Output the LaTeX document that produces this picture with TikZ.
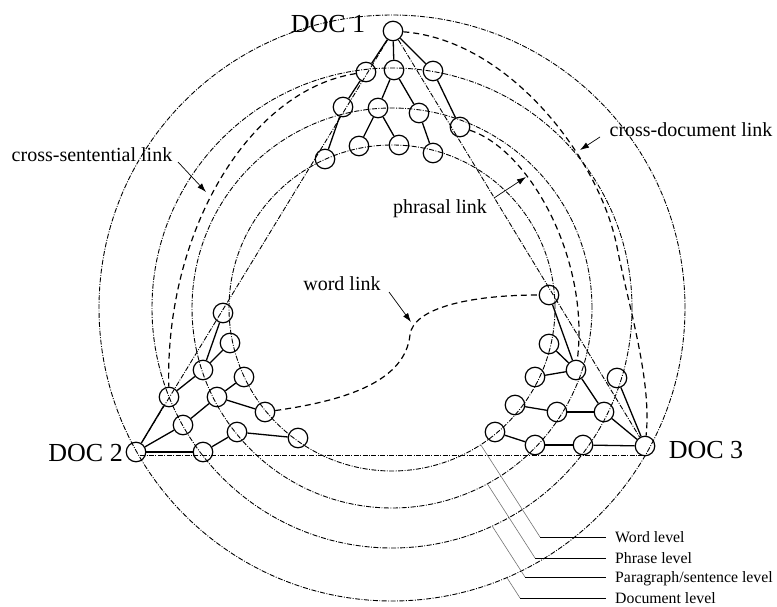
\documentclass[tikz,border=0pt]{standalone}
\usepackage{fontspec}
\setmainfont{Liberation Serif}
\usetikzlibrary{arrows.meta}
\begin{document}
\begin{tikzpicture}[x=1pt,y=-1pt,
  lvl/.style={line width=0.9pt, dash pattern=on 5pt off 1.5pt on 0.9pt off 1.5pt},
  lnk/.style={line width=1.2pt, dash pattern=on 6pt off 4pt},
  tn/.style={circle, draw, line width=1.2pt, minimum size=19.5pt, inner sep=0pt},
  te/.style={line width=1.3pt},
  lab/.style={font=\fontsize{20}{22}\selectfont, inner sep=0pt},
  doclab/.style={font=\fontsize{26}{28}\selectfont, inner sep=0pt},
  leg/.style={font=\fontsize{15.8}{17}\selectfont, anchor=base west, inner xsep=9pt, inner ysep=0pt},
  arr/.style={-{Latex[length=9pt,width=6pt]}, line width=0.7pt},
  legdiag/.style={line width=0.6pt, draw=black!55},
  leghor/.style={line width=0.9pt}
]
\useasboundingbox (0,0) rectangle (777,607);
\coordinate (O) at (392,308);
% level circles
\draw[lvl] (O) circle[radius=293pt];
\draw[lvl] (O) circle[radius=240pt];
\draw[lvl] (O) circle[radius=200pt];
\draw[lvl] (O) circle[radius=163pt];

% DOC 1 tree
\node[tn] (t0) at (393,31) {};
\node[tn] (t1) at (366,72) {};
\node[tn] (t2) at (394,70) {};
\node[tn] (t3) at (433,71) {};
\node[tn] (t4) at (343,107) {};
\node[tn] (t5) at (378,108) {};
\node[tn] (t6) at (419,113) {};
\node[tn] (t7) at (460,127) {};
\node[tn] (t8) at (325,159) {};
\node[tn] (t9) at (359,146) {};
\node[tn] (t10) at (399,145) {};
\node[tn] (t11) at (433,153) {};
% DOC 2 tree
\node[tn] (l0) at (136,452) {};
\node[tn] (l1) at (169,397) {};
\node[tn] (l2) at (183,425) {};
\node[tn] (l3) at (203,452) {};
\node[tn] (l4) at (203,370) {};
\node[tn] (l5) at (217,397) {};
\node[tn] (l6) at (237,432) {};
\node[tn] (l7) at (223,313) {};
\node[tn] (l8) at (230,343) {};
\node[tn] (l9) at (244,377) {};
\node[tn] (l10) at (265,412) {};
\node[tn] (l11) at (298,438) {};
% DOC 3 tree
\node[tn] (r0) at (645,446) {};
\node[tn] (r1) at (617,378) {};
\node[tn] (r2) at (604,412) {};
\node[tn] (r3) at (583,445) {};
\node[tn] (r4) at (576,370) {};
\node[tn] (r5) at (557,412) {};
\node[tn] (r6) at (535,445) {};
\node[tn] (r7) at (549,295) {};
\node[tn] (r8) at (549,344) {};
\node[tn] (r9) at (535,377) {};
\node[tn] (r10) at (515,405) {};
\node[tn] (r11) at (495,432) {};

% document triangle
\coordinate (hl) at (140,455);
\coordinate (hr) at (645,455);
\draw[lvl] (t0) -- (l0);
\draw[lvl] (t0) -- (r0);
\draw[lvl] (hl) -- (hr);

% tree edges
\draw[te] (t0) -- (t1); \draw[te] (t0) -- (t2); \draw[te] (t0) -- (t3);
\draw[te] (t1) -- (t4); \draw[te] (t4) -- (t8);
\draw[te] (t2) -- (t5); \draw[te] (t2) -- (t6);
\draw[te] (t5) -- (t9); \draw[te] (t5) -- (t10);
\draw[te] (t6) -- (t11); \draw[te] (t3) -- (t7);

\draw[te] (l0) -- (l1); \draw[te] (l0) -- (l2); \draw[te] (l0) -- (l3);
\draw[te] (l1) -- (l4); \draw[te] (l4) -- (l7); \draw[te] (l4) -- (l8);
\draw[te] (l2) -- (l5); \draw[te] (l5) -- (l9); \draw[te] (l5) -- (l10);
\draw[te] (l3) -- (l6); \draw[te] (l6) -- (l11);

\draw[te] (r0) -- (r1); \draw[te] (r0) -- (r2); \draw[te] (r0) -- (r3);
\draw[te] (r2) -- (r4); \draw[te] (r4) -- (r7); \draw[te] (r4) -- (r8); \draw[te] (r4) -- (r9);
\draw[te] (r2) -- (r5); \draw[te] (r5) -- (r10);
\draw[te] (r3) -- (r6); \draw[te] (r6) -- (r11);

% links
\draw[lnk] (t1) .. controls (250,90) and (165,230) .. (l1);
\draw[lnk] (t7) .. controls (530,150) and (590,260) .. (r4);
\draw[lnk] (t0) .. controls (510,40) and (600,160) .. (617,247) .. controls (628,304) and (652,380) .. (r0);
\draw[lnk] (l10) .. controls (350,400) and (405,380) .. (410,335) .. controls (413,308) and (470,295) .. (r7);

% labels
\node[doclab] (d1) at (328,24) {DOC 1};
\node[doclab, anchor=east] (d2) at (123,453) {DOC 2};
\node[doclab] (d3) at (706,450) {DOC 3};

\node[lab] (cs) at (92,155) {cross-sentential link};
\node[lab] (cd) at (691,130) {cross-document link};
\node[lab] (ph) at (440,209) {phrasal link};
\node[lab] (wl) at (342,284) {word link};

\coordinate (cs1) at (178,162); \coordinate (cs2) at (206,192);
\coordinate (cd1) at (600,137); \coordinate (cd2) at (580,150);
\coordinate (ph1) at (494,198); \coordinate (ph2) at (526,177);
\coordinate (wl1) at (389,292); \coordinate (wl2) at (411,322);
\draw[arr] (cs1) -- (cs2);
\draw[arr] (cd1) -- (cd2);
\draw[arr] (ph1) -- (ph2);
\draw[arr] (wl1) -- (wl2);

% legend
\node[leg] (g1) at (606,542) {Word level};
\node[leg] (g2) at (606,563) {Phrase level};
\node[leg] (g3) at (606,582) {Paragraph/sentence level};
\node[leg] (g4) at (606,603) {Document level};
\coordinate (c1) at (480.7,444.7); \coordinate (k1) at (540,537);
\coordinate (c2) at (487.3,483.8); \coordinate (k2) at (535,558);
\coordinate (c3) at (492.2,526.1); \coordinate (k3) at (525,577);
\coordinate (c4) at (506.9,577.6); \coordinate (k4) at (520,598);
\draw[legdiag] (c1) -- (k1); \draw[leghor] (k1) -- (k1 -| g1.west);
\draw[legdiag] (c2) -- (k2); \draw[leghor] (k2) -- (k2 -| g2.west);
\draw[legdiag] (c3) -- (k3); \draw[leghor] (k3) -- (k3 -| g3.west);
\draw[legdiag] (c4) -- (k4); \draw[leghor] (k4) -- (k4 -| g4.west);
\end{tikzpicture}
\end{document}
